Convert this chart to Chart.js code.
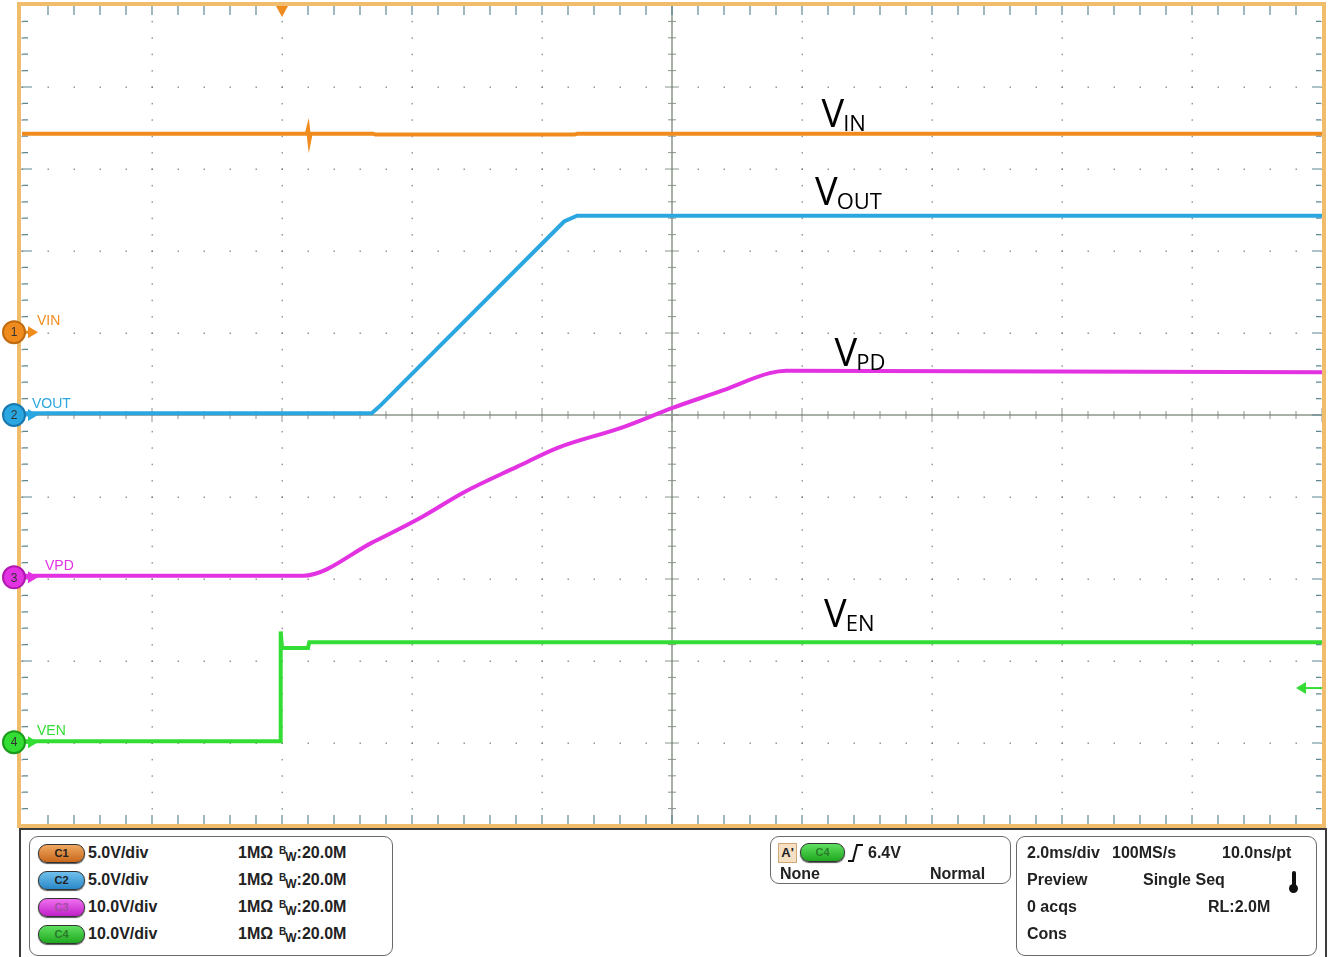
<!DOCTYPE html>
<html>
<head>
<meta charset="utf-8">
<script src="https://cdn.jsdelivr.net/npm/chart.js@4.4.1/dist/chart.umd.min.js"></script>
<style>
  body { margin:0; background:#fff; width:1332px; height:957px; overflow:hidden; position:relative;
         font-family:"Liberation Sans", Arial, sans-serif; }
  #scope { position:absolute; left:0; top:0; }
  .panel { position:absolute; left:19px; top:828px; width:1304px; height:140px; border:2px solid #3c3c3c; }
  .box { position:absolute; border:1.5px solid #6a6a6a; border-radius:9px; background:#fff; }
  .t { position:absolute; font-weight:bold; font-size:16px; line-height:16px; color:#222; white-space:nowrap; }
  .badge { position:absolute; width:45px; height:17px; border-radius:9px; border:1px solid #333;
           font-weight:bold; font-size:11px; line-height:17px; text-align:center; color:#222;
           box-shadow:0 1px 1px #555; }
  .bw sup { font-size:10px; position:relative; top:-2px; vertical-align:top; }
  .bw sub { font-size:12px; vertical-align:baseline; position:relative; top:3px; margin-left:-1px; }
</style>
</head>
<body>
<canvas id="scope" width="1332" height="957"></canvas>

<div class="panel"></div>
<div class="box" style="left:29px;top:836px;width:362px;height:118px"></div>
<div class="box" style="left:770px;top:836px;width:239px;height:46px"></div>
<div class="box" style="left:1016px;top:836px;width:299px;height:118px"></div>

<div class="badge" style="left:38px;top:844px;background:linear-gradient(#f0a860,#c8681c)">C1</div>
<div class="badge" style="left:38px;top:871px;background:linear-gradient(#70c0ec,#2a88c8)">C2</div>
<div class="badge" style="left:38px;top:898px;background:linear-gradient(#f070f0,#c020c8);color:#a050a0">C3</div>
<div class="badge" style="left:38px;top:925px;background:linear-gradient(#60e060,#20a820);color:#2a7a2a">C4</div>

<div class="t" style="left:88px;top:845px">5.0V/div</div>
<div class="t" style="left:88px;top:872px">5.0V/div</div>
<div class="t" style="left:88px;top:899px">10.0V/div</div>
<div class="t" style="left:88px;top:926px">10.0V/div</div>
<div class="t" style="left:238px;top:845px">1MΩ</div>
<div class="t" style="left:238px;top:872px">1MΩ</div>
<div class="t" style="left:238px;top:899px">1MΩ</div>
<div class="t" style="left:238px;top:926px">1MΩ</div>
<div class="t bw" style="left:279px;top:845px"><sup>B</sup><sub>W</sub>:20.0M</div>
<div class="t bw" style="left:279px;top:872px"><sup>B</sup><sub>W</sub>:20.0M</div>
<div class="t bw" style="left:279px;top:899px"><sup>B</sup><sub>W</sub>:20.0M</div>
<div class="t bw" style="left:279px;top:926px"><sup>B</sup><sub>W</sub>:20.0M</div>

<div class="t" style="left:778px;top:843px;width:17px;height:18px;background:#f6e0c4;border:1px solid #d0a878;font-size:13px;line-height:18px;text-align:center">A'</div>
<div class="badge" style="left:800px;top:843px;width:43px;background:linear-gradient(#60e060,#20a820);color:#2a7a2a">C4</div>
<svg style="position:absolute;left:846px;top:842px" width="20" height="22"><path d="M2 19 L7 19 L11 3 L17 3" stroke="#111" stroke-width="2" fill="none"/></svg>
<div class="t" style="left:868px;top:845px">6.4V</div>
<div class="t" style="left:780px;top:866px">None</div>
<div class="t" style="left:930px;top:866px">Normal</div>

<div class="t" style="left:1027px;top:845px">2.0ms/div</div>
<div class="t" style="left:1112px;top:845px">100MS/s</div>
<div class="t" style="left:1222px;top:845px">10.0ns/pt</div>
<div class="t" style="left:1027px;top:872px">Preview</div>
<div class="t" style="left:1143px;top:872px">Single Seq</div>
<div style="position:absolute;left:1292px;top:871px;width:4px;height:16px;background:#111;border-radius:2px"></div>
<div style="position:absolute;left:1289px;top:884px;width:9px;height:9px;background:#111;border-radius:50%"></div>
<div class="t" style="left:1027px;top:899px">0 acqs</div>
<div class="t" style="left:1208px;top:899px">RL:2.0M</div>
<div class="t" style="left:1027px;top:926px">Cons</div>

<script>
// --- screen axes, in divisions (10 x 10 div, 2.0 ms/div) ---
const xDivs = [0, 1, 2, 3, 4, 5, 6, 7, 8, 9, 10];
const yDivs = [-5, -4, -3, -2, -1, 0, 1, 2, 3, 4, 5];

// --- traces (x in div, y in div from centre) ---
const vinX  = [0, 2.19, 2.20, 2.21, 2.22, 2.70, 2.72, 4.25, 4.27, 10];
const vinY  = [3.43, 3.43, 3.49, 3.35, 3.43, 3.43, 3.42, 3.42, 3.43, 3.43];

const voutX = [0, 2.69, 2.76, 4.17, 4.27, 10];
const voutY = [0.02, 0.02, 0.12, 2.36, 2.43, 2.43];

const vpdX  = [0, 2.16, 2.70, 3.08, 3.39, 3.81, 4.12, 4.62, 5.01, 5.39, 5.75, 5.88, 10];
const vpdY  = [-1.96, -1.96, -1.55, -1.24, -0.95, -0.63, -0.40, -0.15, 0.09, 0.30, 0.51, 0.54, 0.52];

const venX  = [0, 1.99, 1.99, 2.00, 2.20, 2.21, 10];
const venY  = [-3.98, -3.98, -2.64, -2.84, -2.84, -2.77, -2.77];

// channel ground markers (div) and labels
const chNames   = ['VIN', 'VOUT', 'VPD', 'VEN'];
const chOffsets = [1.01, 0.0, -1.98, -3.99];
const chColors  = ['#f08c1e', '#2aa6e0', '#e232e2', '#33dd33'];
const chRing    = ['#c06a10', '#1a78b0', '#b018b0', '#1a9a1a'];

// big annotations: [main, sub, x div, baseline div]
const annotations = [
  ['V', 'IN', 6.15, 3.51],
  ['V', 'OUT', 6.10, 2.56],
  ['V', 'PD', 6.25, 0.60],
  ['V', 'EN', 6.17, -2.59]
];

const trigX = 2.0;       // trigger position (div)
const trigLevel = -3.33; // C4 trigger level arrow (div)

function pts(xs, ys) { return xs.map((x, i) => ({ x: x, y: ys[i] })); }

const scopeFace = {
  id: 'scopeFace',
  beforeDatasetsDraw(chart) {
    const { ctx, chartArea: a, scales: { x, y } } = chart;
    ctx.save();
    // dotted graticule
    ctx.fillStyle = 'rgba(110,120,120,0.75)';
    xDivs.forEach(d => {
      const px = x.getPixelForValue(d);
      for (let m = -5; m <= 5; m += 0.2) {
        ctx.fillRect(px - 0.5, y.getPixelForValue(m) - 0.5, 1.5, 1.5);
      }
    });
    yDivs.forEach(d => {
      const py = y.getPixelForValue(d);
      for (let m = 0; m <= 10; m += 0.2) {
        ctx.fillRect(x.getPixelForValue(m) - 0.5, py - 0.5, 1.5, 1.5);
      }
    });
    // centre cross
    const cx = x.getPixelForValue(5), cy = y.getPixelForValue(0);
    ctx.strokeStyle = '#8c968c';
    ctx.lineWidth = 1.5;
    ctx.beginPath();
    ctx.moveTo(cx, a.top); ctx.lineTo(cx, a.bottom);
    ctx.moveTo(a.left, cy); ctx.lineTo(a.right, cy);
    ctx.stroke();
    ctx.lineWidth = 1;
    ctx.beginPath();
    for (let i = 0; i <= 50; i++) {
      const m = i * 0.2, L = i % 5 === 0 ? 7 : 4;
      const px = x.getPixelForValue(m);
      ctx.moveTo(px, cy - L); ctx.lineTo(px, cy + L);
      const py = y.getPixelForValue(-5 + m);
      ctx.moveTo(cx - L, py); ctx.lineTo(cx + L, py);
    }
    ctx.stroke();
    // edge ticks
    ctx.strokeStyle = '#5f8792';
    ctx.lineWidth = 1.2;
    ctx.beginPath();
    for (let i = 1; i < 50; i++) {
      const m = i * 0.2;
      const px = x.getPixelForValue(m);
      ctx.moveTo(px, a.top + 1); ctx.lineTo(px, a.top + 10);
      ctx.moveTo(px, a.bottom - 1); ctx.lineTo(px, a.bottom - 10);
      const py = y.getPixelForValue(-5 + m), L = i % 5 === 0 ? 10 : 6;
      ctx.moveTo(a.left + 1, py); ctx.lineTo(a.left + L, py);
      ctx.moveTo(a.right - 1, py); ctx.lineTo(a.right - L, py);
    }
    ctx.stroke();
    ctx.restore();
  },
  afterDatasetsDraw(chart) {
    const { ctx, chartArea: a, scales: { x, y } } = chart;
    ctx.save();
    // orange frame
    ctx.strokeStyle = '#efbd6c';
    ctx.lineWidth = 4;
    ctx.strokeRect(a.left - 3, a.top - 1, a.right - a.left + 5, a.bottom - a.top + 2);

    // trigger position
    const tx = x.getPixelForValue(trigX);
    ctx.fillStyle = '#f08c1e';
    ctx.beginPath();
    ctx.moveTo(tx - 6, a.top + 1); ctx.lineTo(tx + 6, a.top + 1); ctx.lineTo(tx, a.top + 12);
    ctx.closePath(); ctx.fill();

    // trigger level arrow (right)
    const ty = y.getPixelForValue(trigLevel);
    ctx.fillStyle = '#33dd33';
    ctx.strokeStyle = '#33dd33';
    ctx.lineWidth = 2;
    ctx.beginPath();
    ctx.moveTo(a.right - 26, ty); ctx.lineTo(a.right - 16, ty - 6); ctx.lineTo(a.right - 16, ty + 6);
    ctx.closePath(); ctx.fill();
    ctx.beginPath(); ctx.moveTo(a.right - 18, ty); ctx.lineTo(a.right, ty); ctx.stroke();

    // channel markers
    chNames.forEach((name, i) => {
      const py = y.getPixelForValue(chOffsets[i]);
      ctx.fillStyle = chColors[i];
      ctx.beginPath();
      ctx.moveTo(a.left + 6, py - 6); ctx.lineTo(a.left + 16, py); ctx.lineTo(a.left + 6, py + 6);
      ctx.closePath(); ctx.fill();
      ctx.fillRect(a.left, py - 1.5, 8, 3);
      ctx.beginPath();
      ctx.arc(14, py, 11, 0, Math.PI * 2);
      ctx.fill();
      ctx.lineWidth = 2; ctx.strokeStyle = chRing[i]; ctx.stroke();
      ctx.fillStyle = '#333';
      ctx.font = '12px "Liberation Sans", Arial';
      ctx.textAlign = 'center'; ctx.textBaseline = 'middle';
      ctx.fillText(String(i + 1), 14, py + 1);
      ctx.fillStyle = chColors[i];
      ctx.font = '14px "Liberation Sans Narrow", "Liberation Sans", Arial';
      ctx.textAlign = 'left'; ctx.textBaseline = 'alphabetic';
      const lx = [37, 32, 45, 37][i];
      ctx.fillText(name, lx, py - 7);
    });

    // big V labels
    ctx.fillStyle = '#000';
    ctx.textBaseline = 'alphabetic';
    ctx.textAlign = 'left';
    annotations.forEach(([main, sub, ax, ay]) => {
      const px = x.getPixelForValue(ax), py = y.getPixelForValue(ay);
      ctx.font = '38px "Open Sans", sans-serif';
      ctx.fillText(main, px, py);
      const w = ctx.measureText(main).width;
      ctx.font = '22px "Open Sans", sans-serif';
      ctx.fillText(sub, px + w - 1, py + 4);
    });
    ctx.restore();
  }
};

new Chart(document.getElementById('scope'), {
  type: 'line',
  data: {
    datasets: [
      { label: 'VIN', data: pts(vinX, vinY), borderColor: chColors[0] },
      { label: 'VOUT', data: pts(voutX, voutY), borderColor: chColors[1] },
      { label: 'VPD', data: pts(vpdX, vpdY), borderColor: chColors[2], cubicInterpolationMode: 'monotone' },
      { label: 'VEN', data: pts(venX, venY), borderColor: chColors[3] }
    ].map(d => Object.assign(d, { borderWidth: 4, pointRadius: 0, fill: false }))
  },
  options: {
    responsive: false,
    animation: false,
    layout: { padding: { left: 22, right: 10, top: 5, bottom: 132 } },
    plugins: { legend: { display: false }, tooltip: { enabled: false } },
    scales: {
      x: { type: 'linear', min: 0, max: 10, display: false },
      y: { type: 'linear', min: -5, max: 5, display: false }
    }
  },
  plugins: [scopeFace]
});
</script>
</body>
</html>
